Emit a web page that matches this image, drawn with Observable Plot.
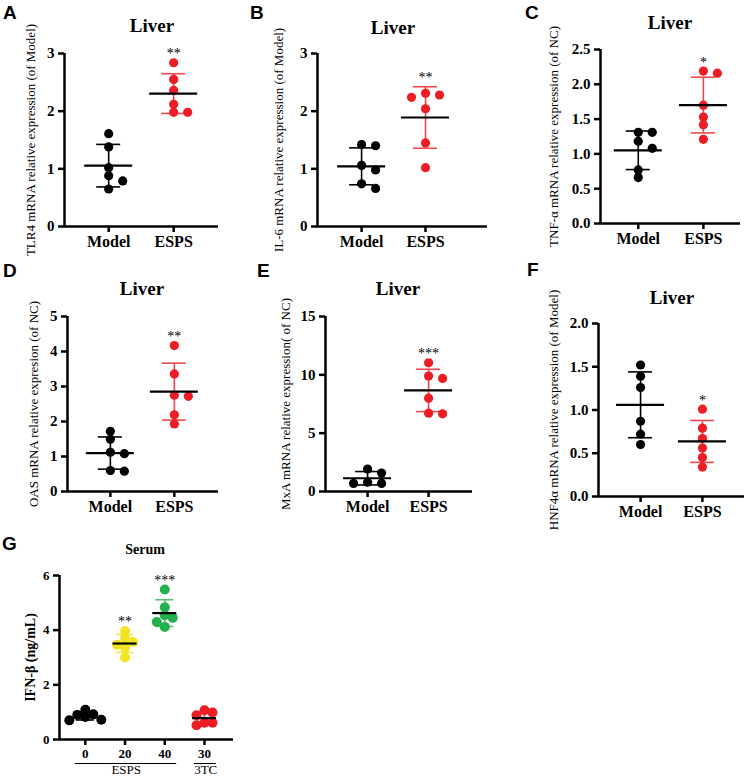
<!DOCTYPE html>
<html><head><meta charset="utf-8">
<script src="https://cdn.jsdelivr.net/npm/d3@7"></script>
<script src="https://cdn.jsdelivr.net/npm/@observablehq/plot@0.6"></script>
<style>
body{margin:0;background:#fff;}
#fig{position:relative;width:746px;height:780px;overflow:hidden;background:#fff;font-family:"Liberation Serif","Times New Roman",serif;}
#fig svg{position:absolute;left:0;top:0;}
.letter{position:absolute;font-family:"Liberation Sans",Arial,sans-serif;font-weight:bold;font-size:19px;line-height:1;color:#000;}
.title{position:absolute;transform:translate(-50%,-50%);font-weight:bold;font-size:19px;line-height:1;white-space:nowrap;color:#000;}
svg g[aria-label="x-axis"] line, svg g[aria-label="y-axis"] line,
svg g[aria-label="x-axis tick"], svg g[aria-label="y-axis tick"]{stroke-width:2.5px;}
svg.liver g[aria-label="x-axis"] text, svg.liver g[aria-label="x-axis tick label"]{font-size:16px;}
</style></head>
<body><div id="fig"></div>
<script>
// ---------- data ----------
const liverGroups = ["Model", "ESPS"];
const panelLetters = ["A", "B", "C", "D", "E", "F", "G"];
const panelTitles = ["Liver", "Liver", "Liver", "Liver", "Liver", "Liver", "Serum"];
const yTitles = [
  "TLR4 mRNA relative expression (of Model)",
  "IL-6 mRNA relative expression (of Model)",
  "TNF-α mRNA relative expression (of NC)",
  "OAS mRNA relative expresion (of NC)",
  "MxA mRNA relative expression( of NC)",
  "HNF4α mRNA relative expression (of Model)",
  "IFN-β (ng/mL)"
];
const tlr4Model = [1.61, 1.38, 1.02, 0.88, 0.79, 0.65];
const tlr4Esps  = [2.84, 2.55, 2.36, 2.12, 1.98, 1.98];
const il6Model  = [1.42, 1.40, 1.06, 0.98, 0.74, 0.66];
const il6Esps   = [2.31, 2.28, 2.24, 2.04, 1.45, 1.02];
const tnfModel  = [1.31, 1.31, 1.18, 1.08, 0.77, 0.66];
const tnfEsps   = [2.19, 2.16, 1.70, 1.53, 1.42, 1.21];
const oasModel  = [1.72, 1.49, 1.12, 1.08, 0.60, 0.58];
const oasEsps   = [4.17, 3.36, 2.75, 2.72, 2.19, 1.93];
const mxaModel  = [1.92, 1.58, 0.80, 0.69, 0.69];
const mxaEsps   = [11.03, 9.89, 9.69, 8.00, 6.71, 6.66];
const hnfModel  = [1.52, 1.39, 1.26, 0.87, 0.72, 0.60];
const hnfEsps   = [1.01, 0.79, 0.67, 0.56, 0.45, 0.34];
const liverSig  = ["**", "**", "*", "**", "***", "*"];
const yTicksA = [0, 1, 2, 3];
const yTicksB = [0, 1, 2, 3];
const yTicksC = [0, 0.5, 1.0, 1.5, 2.0, 2.5];
const yTicksD = [0, 1, 2, 3, 4, 5];
const yTicksE = [0, 5, 10, 15];
const yTicksF = [0, 0.5, 1.0, 1.5, 2.0];
const yTicksG = [0, 2, 4, 6];
const serumGroups = ["0", "20", "40", "30"];
const serumDose0  = [1.09, 0.92, 0.90, 0.82, 0.72, 0.70];
const serumDose20 = [3.97, 3.70, 3.57, 3.47, 3.36, 3.00];
const serumDose40 = [5.49, 4.84, 4.55, 4.45, 4.30, 4.12];
const serum3tc    = [1.07, 0.99, 0.89, 0.61, 0.61, 0.52];
const serumSig    = ["", "**", "***", ""];
const serumBracketLabels = ["ESPS", "3TC"];
const serumBracketMembers = [["0", "20", "40"], ["30"]];

// ---------- styling / layout ----------
const RED = "#ee1c25", RED_BAR = "#f0474c";
const layouts = [
  {left: 64,  right: 218, top: 53,  bottom: 226, padL: .68, padR: .69, letter: [3, 3],    title: [152, 25], yTitleX: 30},
  {left: 317, right: 487, top: 53,  bottom: 226, padL: .69, padR: .97, letter: [250, 3],  title: [393, 27], yTitleX: 278},
  {left: 600, right: 740, top: 49,  bottom: 223, padL: .58, padR: .57, letter: [525, 3],  title: [670, 22], yTitleX: 553},
  {left: 67,  right: 218, top: 316, bottom: 491, padL: .67, padR: .69, letter: [3, 261],  title: [142, 288], yTitleX: 33},
  {left: 325, right: 472, top: 316, bottom: 491, padL: .69, padR: .72, letter: [257, 261], title: [398, 288], yTitleX: 285},
  {left: 598, right: 744, top: 323, bottom: 496, padL: .68, padR: .68, letter: [527, 260], title: [672, 297], yTitleX: 553},
  {left: 59,  right: 233, top: 575, bottom: 739, padL: .65, padR: .73, letter: [2, 534],  title: [145, 550], yTitleX: 30}
];

const fig = document.getElementById("fig");

// simple beeswarm: dots at nearly equal heights are moved to side slots
function swarm(values, pxPerUnit, thresh) {
  const order = d3.range(values.length).sort((a, b) => values[b] - values[a]);
  const placed = [], slots = new Array(values.length);
  for (const k of order) {
    for (const s of [0, 1, -1, 2, -2, 3, -3]) {
      if (!placed.some(p => p.s === s && Math.abs(values[p.k] - values[k]) * pxPerUnit < thresh)) {
        slots[k] = s; placed.push({k, s}); break;
      }
    }
  }
  return slots;
}

function panel(idx, opts) {
  const lay = layouts[idx];
  const {series, groups, sig, yTicks, yFmt, ymax, dotColors, barColors, r, unitPx, thresh, meanHalf, capHalf,
         tickFont, yTitleSize, yTitleWeight, cls} = opts;
  const n = groups.length;
  const spacing = (lay.right - lay.left) / (n - 1 + lay.padL + lay.padR);
  const pxPerUnit = (lay.bottom - lay.top) / ymax;
  const dots = [], stats = [];
  series.forEach((vals, g) => {
    const slots = swarm(vals, pxPerUnit, thresh);
    vals.forEach((v, k) => dots.push({g, v, x: g + slots[k] * unitPx / spacing}));
    const mean = d3.mean(vals), sd = d3.deviation(vals);
    stats.push({g, mean, sd, top: Math.max(d3.max(vals), mean + sd), sig: sig[g]});
  });
  const marks = [
    Plot.ruleY([0], {strokeWidth: 2.5}),
    Plot.ruleX([-lay.padL], {strokeWidth: 2.5}),
    Plot.ruleX(stats, {x: "g", y1: d => d.mean - d.sd, y2: d => d.mean + d.sd, stroke: d => barColors[d.g], strokeWidth: 1.6}),
    Plot.ruleY(stats, {y: d => d.mean + d.sd, x1: d => d.g - capHalf / spacing, x2: d => d.g + capHalf / spacing, stroke: d => barColors[d.g], strokeWidth: 1.6}),
    Plot.ruleY(stats, {y: d => d.mean - d.sd, x1: d => d.g - capHalf / spacing, x2: d => d.g + capHalf / spacing, stroke: d => barColors[d.g], strokeWidth: 1.6}),
    Plot.dot(dots, {x: "x", y: "v", r, fill: d => dotColors[d.g], stroke: null}),
    Plot.ruleY(stats, {y: "mean", x1: d => d.g - meanHalf / spacing, x2: d => d.g + meanHalf / spacing, stroke: "#000", strokeWidth: 2.2}),
    Plot.text(stats.filter(d => d.sig), {x: "g", y: "top", text: "sig", dy: -9, fontSize: 14, fontWeight: "normal"}),
    Plot.text([yTitles[idx]], {frameAnchor: "left", textAnchor: "middle", dx: lay.yTitleX - lay.left, rotate: -90, fontSize: yTitleSize, fontWeight: yTitleWeight})
  ];
  if (opts.extra) marks.push(...opts.extra(spacing));
  const svg = Plot.plot({
    width: 746, height: 780,
    marginLeft: lay.left, marginRight: 746 - lay.right, marginTop: lay.top, marginBottom: 780 - lay.bottom,
    x: {domain: [-lay.padL, n - 1 + lay.padR], ticks: d3.range(n), tickFormat: i => groups[i], tickSize: 6, tickPadding: 3, label: null},
    y: {domain: [0, ymax], ticks: yTicks, tickFormat: yFmt, tickSize: 6, tickPadding: 4, label: null},
    color: {type: "identity"},
    style: {fontFamily: "'Liberation Serif','Times New Roman',serif", fontSize: tickFont + "px", fontWeight: "bold", background: "transparent", overflow: "visible", color: "#000"},
    marks
  });
  if (cls) svg.classList.add(cls);
  fig.appendChild(svg);
  const L = document.createElement("div");
  L.className = "letter"; L.textContent = panelLetters[idx];
  L.style.left = lay.letter[0] + "px"; L.style.top = lay.letter[1] + "px";
  fig.appendChild(L);
  const T = document.createElement("div");
  T.className = "title"; T.textContent = panelTitles[idx];
  T.style.left = lay.title[0] + "px"; T.style.top = lay.title[1] + "px";
  if (idx === 6) T.style.fontSize = "14px";
  fig.appendChild(T);
}

const liverCommon = {groups: liverGroups, dotColors: ["#000", RED], barColors: ["#000", RED_BAR], r: 4.6, unitPx: 14, thresh: 7.5,
  meanHalf: 24, capHalf: 12, tickFont: 15, yTitleSize: 13, yTitleWeight: "normal", cls: "liver"};
const f1 = d3.format("d"), f01 = d3.format(".1f");
panel(0, {...liverCommon, series: [tlr4Model, tlr4Esps], sig: ["", liverSig[0]], yTicks: yTicksA, yFmt: f1, ymax: 3});
panel(1, {...liverCommon, series: [il6Model, il6Esps], sig: ["", liverSig[1]], yTicks: yTicksB, yFmt: f1, ymax: 3});
panel(2, {...liverCommon, series: [tnfModel, tnfEsps], sig: ["", liverSig[2]], yTicks: yTicksC, yFmt: f01, ymax: 2.5});
panel(3, {...liverCommon, series: [oasModel, oasEsps], sig: ["", liverSig[3]], yTicks: yTicksD, yFmt: f1, ymax: 5});
panel(4, {...liverCommon, series: [mxaModel, mxaEsps], sig: ["", liverSig[4]], yTicks: yTicksE, yFmt: f1, ymax: 15});
panel(5, {...liverCommon, series: [hnfModel, hnfEsps], sig: ["", liverSig[5]], yTicks: yTicksF, yFmt: f01, ymax: 2});
panel(6, {groups: serumGroups, series: [serumDose0, serumDose20, serumDose40, serum3tc], sig: serumSig,
  yTicks: yTicksG, yFmt: f1, ymax: 6,
  dotColors: ["#000", "#f2e422", "#22b14c", RED], barColors: ["#000", "#efe65a", "#5cc26c", RED_BAR],
  r: 5, unitPx: 8, thresh: 7, meanHalf: 12, capHalf: 9, tickFont: 13, yTitleSize: 14, yTitleWeight: "bold",
  extra: (spacing) => {
    const br = serumBracketLabels.map((label, j) => {
      const idxs = serumBracketMembers[j].map(m => serumGroups.indexOf(m));
      return {label, a: d3.min(idxs), b: d3.max(idxs)};
    });
    return [
      Plot.ruleY(br, {y: 0, x1: d => d.a - 0.25, x2: d => d.b + 0.3, dy: 24, strokeWidth: 1}),
      Plot.text(br, {x: d => (d.a + d.b) / 2 + 0.03, y: 0, text: "label", dy: 30, lineAnchor: "middle", fontSize: 13, fontWeight: "normal"})
    ];
  }});
</script>
</body></html>
